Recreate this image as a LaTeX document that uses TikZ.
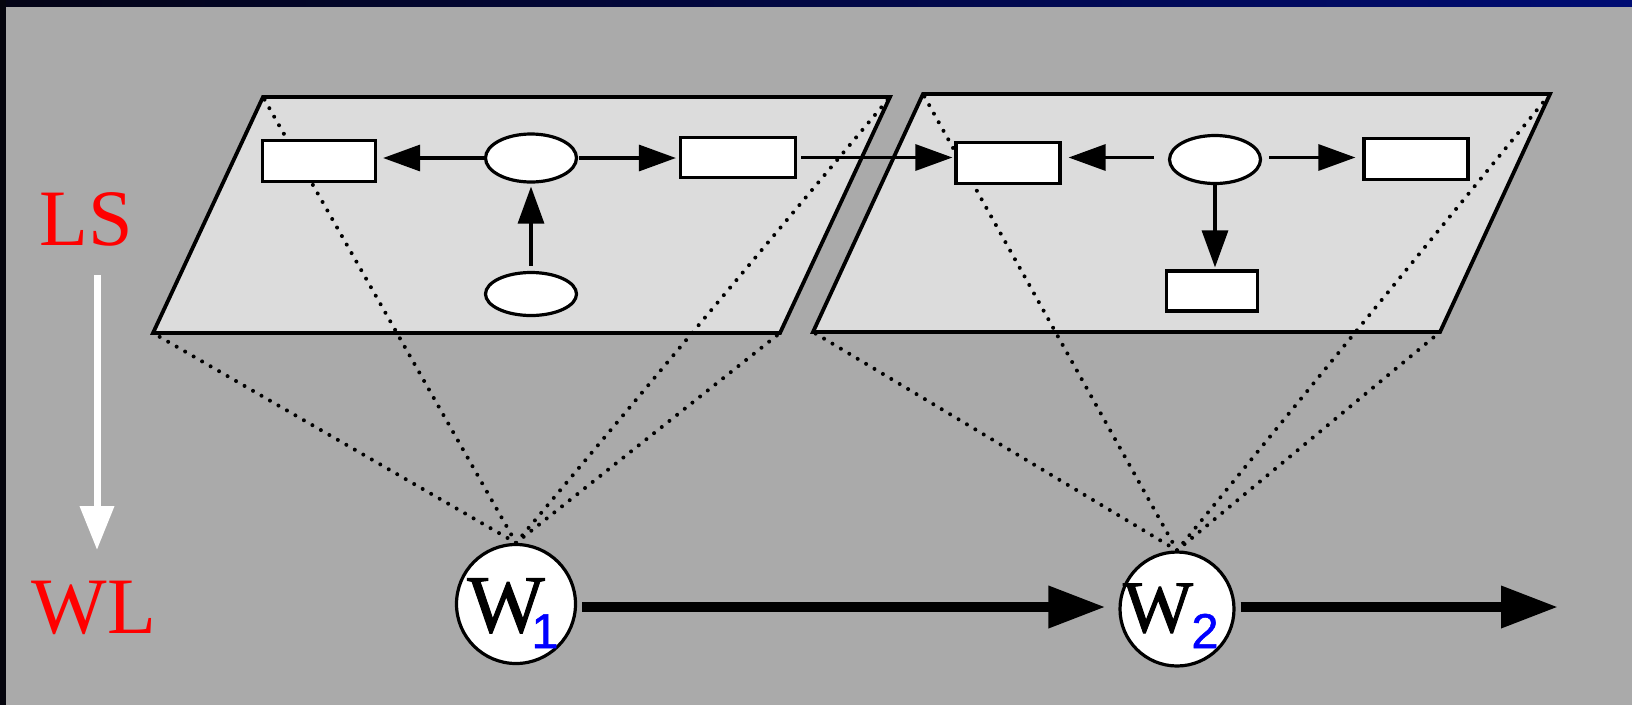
\documentclass[tikz,border=0pt]{standalone}
\usepackage{fontspec}
\setmainfont{Liberation Serif}
\setsansfont{Liberation Sans}
\newfontfamily\wfont[FakeBold=1.3]{Liberation Serif}
\newfontfamily\subfont[FakeBold=1.0]{Liberation Sans}
\usetikzlibrary{shapes.geometric,arrows.meta,calc}
\definecolor{bg}{HTML}{AAAAAA}
\definecolor{para}{HTML}{DCDCDC}
\definecolor{bandL}{RGB}{4,4,22}
\definecolor{bandR}{RGB}{0,12,115}
\definecolor{edgeL}{RGB}{5,5,14}
\begin{document}
\begin{tikzpicture}[x=1pt,y=-1pt,
  rbox/.style={rectangle, draw, fill=white, line width=3.2pt, inner sep=0pt},
  ebox/.style={ellipse, draw, fill=white, line width=3.2pt, inner sep=0pt, minimum width=91pt},
  link/.style={line width=3.2pt, -{Triangle[length=37pt,width=26pt]}},
  dots/.style={line width=4pt, line cap=round, dash pattern=on 0pt off 9.8pt},
  bigarrow/.style={line width=10pt, -{Triangle[length=57pt,width=40pt]}},
  wnode/.style={circle, draw, fill=white, line width=3.2pt, inner sep=0pt},
  plane/.style={fill=para, draw=black, line width=3.8pt, line join=miter},
  lab/.style={text=red, font=\fontsize{80}{80}\selectfont, inner sep=0pt, anchor=base},
  wlab/.style={inner sep=0pt, anchor=base},
  sublab/.style={inner sep=0pt, anchor=base, text=blue, font=\subfont\fontsize{49}{49}\selectfont}
]
\useasboundingbox (0,0) rectangle (1632,705);
% background and frame bands
\fill[bg] (0,0) rectangle (1632,705);
\shade[left color=bandL, right color=bandR] (0,0) rectangle (1632,6);
\fill[edgeL] (0,0) rectangle (6,705);

% plane corners
\coordinate (P1a) at (263,97);
\coordinate (P1b) at (890,97);
\coordinate (P1c) at (780,333);
\coordinate (P1d) at (153,333);
\coordinate (P2a) at (923,94);
\coordinate (P2b) at (1550,94);
\coordinate (P2c) at (1440,332);
\coordinate (P2d) at (813,332);

\path[plane] (P1a) -- (P1b) -- (P1c) -- (P1d) -- cycle;
\path[plane] (P2a) -- (P2b) -- (P2c) -- (P2d) -- cycle;

% world nodes
\node[wnode, minimum size=119pt] (W1) at (516,604) {};
\node[wnode, minimum size=114pt] (W2) at (1177,609) {};

% projection lines
\draw[dots] (W1.north) -- (P1a);
\draw[dots] (W1.north) -- (P1b);
\draw[dots] (W1.north) -- (P1c);
\draw[dots] (W1.north) -- (P1d);
\draw[dots] (W2.north) -- (P2a);
\draw[dots] (W2.north) -- (P2b);
\draw[dots] (W2.north) -- (P2c);
\draw[dots] (W2.north) -- (P2d);

% nodes of the first plane
\node[rbox, minimum width=113pt, minimum height=41pt] (A) at (319,161) {};
\node[ebox, minimum height=48pt] (B) at (531,158) {};
\node[rbox, minimum width=115pt, minimum height=40pt] (C) at (738,157.5) {};
\node[ebox, minimum height=43pt] (D) at (531,294) {};
% nodes of the second plane
\node[rbox, minimum width=104pt, minimum height=41pt] (E) at (1008,163) {};
\node[ebox, minimum height=48pt] (F) at (1215,159.5) {};
\node[rbox, minimum width=91pt, minimum height=40pt] (G) at (1212,291) {};
\node[rbox, minimum width=104pt, minimum height=41pt] (H) at (1416,159) {};

% arrows inside the planes
\draw[link, shorten >=6pt] (B.west) -- (B.west -| A.east);
\draw[link, shorten <=1pt, shorten >=3pt] (B.east) -- (B.east -| C.west);
\draw[link, shorten <=5pt, shorten >=3pt] (D.north) -- (B.south);
\draw[link, shorten <=4pt, shorten >=2pt] (C.east) -- (C.east -| E.west);
\draw[link, shorten <=14pt, shorten >=7pt] ([yshift=2pt]F.west) -- ([yshift=2pt]F.west -| E.east);
\draw[link, shorten <=7pt, shorten >=7pt] ([yshift=2pt]F.east) -- ([yshift=2pt]F.east -| H.west);
\draw[link, shorten >=2pt] (F.south) -- (F.south |- G.north);

% labels of the world nodes
\node[wlab, font=\wfont\fontsize{82}{82}\selectfont] (W1t) at (506,632) {W};
\node[sublab] (W1s) at (545,648) {1};
\node[wlab, font=\wfont\fontsize{74}{74}\selectfont] (W2t) at (1158,632) {W};
\node[sublab] (W2s) at (1205,648) {2};

% thick arrows between worlds
\coordinate (Wend) at (1558,607);
\draw[bigarrow, shorten <=5pt, shorten >=13pt] ([yshift=-3pt]W1.east) -- ([yshift=-3pt]W1.east -| W2.west);
\draw[bigarrow, shorten <=5pt] ([yshift=2pt]W2.east) -- (Wend);

% side labels
\node[lab] (LS) at (86,245) {LS};
\node[lab] (WL) at (94,633) {WL};
\coordinate (Ls0) at (97,275);
\coordinate (Wl0) at (97,550);
\draw[white, line width=7pt, -{Triangle[length=44pt,width=33pt]}] (Ls0) -- (Wl0);
\end{tikzpicture}
\end{document}
